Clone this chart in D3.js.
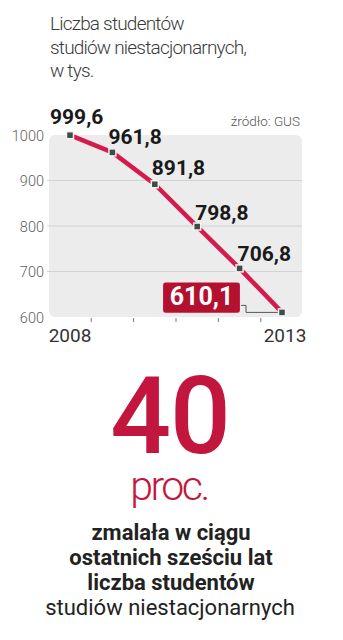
<!DOCTYPE html>
<html>
<head>
<meta charset="utf-8">
<script src="https://cdn.jsdelivr.net/npm/d3@7/dist/d3.min.js"></script>
<style>
  html, body { margin: 0; padding: 0; background: #fff; }
  svg { display: block; }
  text { font-family: Roboto, "Noto Sans", sans-serif; }
</style>
</head>
<body>
<svg id="chart" width="343" height="640"></svg>
<script>
// ---- data ----
const years = [2008, 2009, 2010, 2011, 2012, 2013];
const students = [999.6, 961.8, 891.8, 798.8, 706.8, 610.1];
const valueLabels = ["999,6", "961,8", "891,8", "798,8", "706,8", "610,1"];
const yTicks = [600, 700, 800, 900, 1000];
const xTickLabels = ["2008", "2013"];
const titleLines = ["Liczba studentów", "studiów niestacjonarnych,", "w tys."];
const sourceText = "źródło: GUS";
const bigNumber = "40";
const bigUnit = "proc.";
const noteLinesBold = ["zmalała w ciągu", "ostatnich sześciu lat", "liczba studentów"];
const noteLineRegular = "studiów niestacjonarnych";

// ---- layout ----
const RED_LINE = "#d51a4e";
const RED_DARK = "#b3112f";
const RED_TEXT = "#c3163e";
const svg = d3.select("#chart");

const plot = { left: 49, right: 302, top: 135, bottom: 317 };
const x = d3.scaleLinear().domain([2008, 2013]).range([70, 282]);
const y = d3.scaleLinear().domain([600, 1000]).range([plot.bottom, plot.top]);

// title
svg.append("text")
  .attr("x", 50).attr("y", 30)
  .attr("fill", "#3a3a3a")
  .style("font-size", "19px").style("font-weight", 300).style("letter-spacing", "-0.8px")
  .selectAll("tspan").data(titleLines).join("tspan")
  .attr("x", 50).attr("dy", (d, i) => i === 0 ? 0 : 23.5)
  .text(d => d);

// source
svg.append("text")
  .attr("x", 300).attr("y", 126).attr("text-anchor", "end")
  .attr("fill", "#555").style("font-size", "13.5px").style("font-weight", 300)
  .text(sourceText);

// plot background
svg.append("rect")
  .attr("x", plot.left).attr("y", plot.top)
  .attr("width", plot.right - plot.left).attr("height", plot.bottom - plot.top)
  .attr("rx", 6).attr("fill", "#ececec");

// gridlines (inner)
svg.append("g").selectAll("line")
  .data(yTicks.filter(d => d !== 600 && d !== 1000)).join("line")
  .attr("x1", plot.left - 2).attr("x2", plot.right)
  .attr("y1", d => y(d)).attr("y2", d => y(d))
  .attr("stroke", "#d2d2d2").attr("stroke-width", 1);

// y axis labels
const yAxis = d3.axisLeft(y).tickValues(yTicks).tickSize(0).tickPadding(0).tickFormat(d3.format("d"));
const gy = svg.append("g").attr("transform", "translate(44,0)").call(yAxis);
gy.select(".domain").remove();
gy.selectAll("text")
  .attr("fill", "#606060").style("font-size", "14.5px").style("font-family", "Roboto, sans-serif")
  .style("font-weight", 300).attr("dy", "0.36em");

// x axis ticks between years
const midYears = years.slice(0, -1).map((d, i) => (d + years[i + 1]) / 2);
svg.append("g").selectAll("line").data(midYears).join("line")
  .attr("x1", d => x(d)).attr("x2", d => x(d))
  .attr("y1", plot.bottom + 1).attr("y2", plot.bottom + 5)
  .attr("stroke", "#777").attr("stroke-width", 1);

// x labels
svg.append("g").selectAll("text").data([years[0], years[years.length - 1]]).join("text")
  .attr("x", (d, i) => i === 0 ? x(d) : x(d) + 3)
  .attr("y", 341.5).attr("text-anchor", "middle")
  .attr("fill", "#333").style("font-size", "19px")
  .text((d, i) => xTickLabels[i]);

// line
const line = d3.line().x((d, i) => x(years[i])).y(d => y(d));
svg.append("path").datum(students)
  .attr("d", line).attr("fill", "none")
  .attr("stroke", RED_LINE).attr("stroke-width", 4.5)
  .attr("stroke-linejoin", "round");

// leader from highlight box to last point
const last = students.length - 1;
const lx = x(years[last]), ly = y(students[last]);
const boxW = 78, boxH = 31.5;
const boxX = lx - 119.5, boxY = ly - 30.5;
svg.append("path")
  .attr("d", `M${boxX + boxW},${boxY + 23.5} H${boxX + boxW + 5.5} V${ly} H${lx}`)
  .attr("fill", "none").attr("stroke", "#555").attr("stroke-width", 1);

// points
svg.append("g").selectAll("rect").data(students).join("rect")
  .attr("x", (d, i) => x(years[i]) - 3.5).attr("y", d => y(d) - 3.5)
  .attr("width", 7).attr("height", 7)
  .attr("fill", "#3e4c46").attr("stroke", "#f2f2f2").attr("stroke-width", 1.5);

// value labels (all but last)
const labelDx = [-20, -4, -3, -2, -2];
const labelDy = [-11, -8.5, -9, -7, -7];
svg.append("g").selectAll("text").data(students.slice(0, -1)).join("text")
  .attr("x", (d, i) => x(years[i]) + labelDx[i])
  .attr("y", (d, i) => y(d) + labelDy[i])
  .attr("fill", "#1a1a1a").style("font-size", "21px").style("font-weight", 700)
  .text((d, i) => valueLabels[i]);

// highlight box for last value
svg.append("rect")
  .attr("x", boxX).attr("y", boxY).attr("width", boxW).attr("height", boxH)
  .attr("rx", 3).attr("fill", RED_DARK).attr("stroke", "#fbe9ec").attr("stroke-width", 1.2);
svg.append("text")
  .attr("x", boxX + boxW / 2).attr("y", boxY + 23.5).attr("text-anchor", "middle")
  .attr("fill", "#fff").style("font-size", "25px").style("font-weight", 700)
  .text(valueLabels[last]);

// big number
svg.append("text")
  .attr("x", 170).attr("y", 453).attr("text-anchor", "middle")
  .attr("fill", RED_TEXT).style("font-size", "107px").style("font-weight", 500)
  .style("letter-spacing", "-1px")
  .text(bigNumber);
svg.append("text")
  .attr("x", 169).attr("y", 500).attr("text-anchor", "middle")
  .attr("fill", RED_TEXT).style("font-size", "41px").style("font-weight", 300)
  .style("letter-spacing", "-2.5px")
  .text(bigUnit);

// note
const note = svg.append("g").attr("fill", "#222");
note.selectAll("text.b").data(noteLinesBold).join("text")
  .attr("class", "b")
  .attr("x", 171).attr("y", (d, i) => 540 + i * 25).attr("text-anchor", "middle")
  .style("font-size", "22px").style("font-weight", 700)
  .text(d => d);
note.append("text")
  .attr("x", 170).attr("y", 540 + 3 * 25).attr("text-anchor", "middle")
  .style("font-size", "22px").style("font-weight", 400)
  .text(noteLineRegular);
</script>
</body>
</html>
